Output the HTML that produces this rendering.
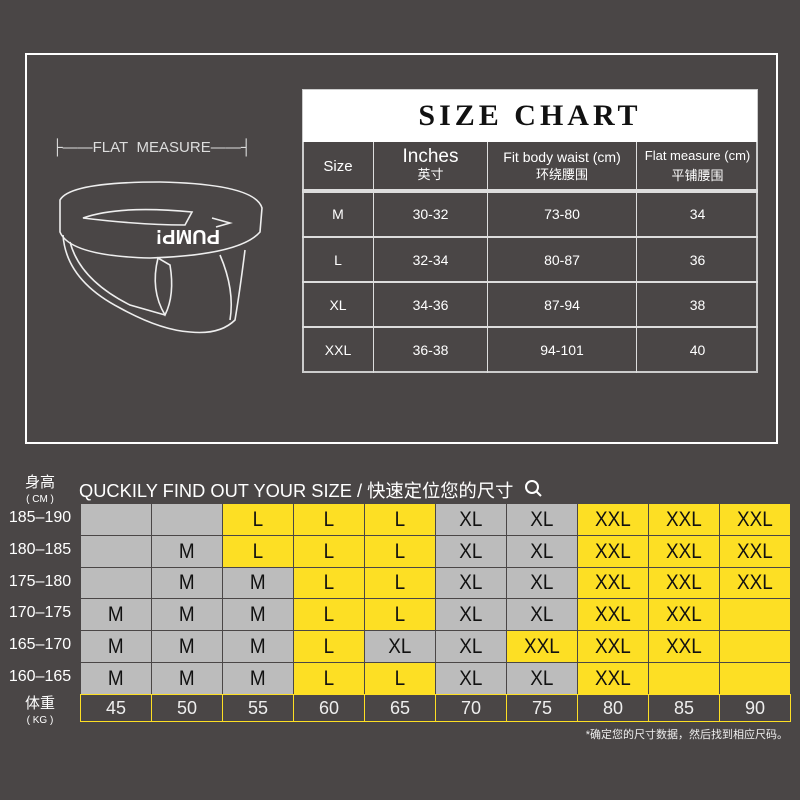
<!DOCTYPE html>
<html><head><meta charset="utf-8"><style>
body{margin:0;width:800px;height:800px;background:#4a4646;position:relative;overflow:hidden;font-family:"Liberation Sans","Noto Sans CJK SC",sans-serif;color:#fff}
.a{position:absolute}
.frame{left:25px;top:53px;width:749px;height:387px;border:2px solid #fff}
.c{position:absolute;display:flex;align-items:center;justify-content:center;text-align:center;box-sizing:border-box}
.g{position:absolute;box-sizing:border-box;display:flex;align-items:center;justify-content:center;font-size:21px;color:#111;border:1.5px solid #4a4646}
.g span{display:inline-block;transform:scaleX(0.9)}
.G{background:#bcbcbc}.Y{background:#fddf24}
.w{position:absolute;box-sizing:border-box;display:flex;align-items:center;justify-content:center;font-size:18px;color:#eee;border:1.5px solid #fddf24;background:#4a4646}
.h{position:absolute;left:0;width:80px;text-align:center;font-size:16px;color:#fff}
</style></head><body>
<div class="a frame"></div>
<div class="a" style="left:52px;top:139px;font-size:15px;color:#ddd;white-space:nowrap">&#9500;&#8212;&#8212;FLAT&nbsp; MEASURE&#8212;&#8212;&#9508;</div>
<svg class="a" style="left:40px;top:170px" width="240" height="200" viewBox="0 0 240 200" fill="none" stroke="#eee" stroke-width="1.6">
<path d="M20 30 Q30 12 120 12 Q215 14 222 38 L220 62 Q200 85 110 88 Q30 86 20 62 Z"/>
<path d="M43 48 Q80 35 152 42 L145 55 Q100 55 43 48 Z"/>
<path d="M172 48 L190 53 L176 57"/>
<path d="M23 65 Q26 110 80 138 Q120 160 150 162 Q180 165 195 150 Q200 120 205 80"/>
<path d="M30 72 Q40 110 90 135 L125 145"/>
<path d="M118 88 Q110 120 125 145 Q135 125 130 95 Z"/>
<path d="M180 85 Q195 120 190 150"/>
<text x="100" y="80" fill="#fff" stroke="none" font-size="20" font-weight="bold" transform="rotate(180 140 70)" font-family="Liberation Sans">PUMP!</text>
</svg>
<div class="a" style="left:302px;top:89px;width:456px;height:284px;border:2px solid #ccc;box-sizing:border-box"></div>
<div class="c" style="left:303px;top:90px;width:454px;height:52px;background:#fff;color:#111;font-family:'Liberation Serif',serif;font-weight:bold;font-size:30px;letter-spacing:4px">SIZE CHART</div>
<div class="a" style="left:302px;top:189px;width:456px;height:4px;background:#ddd"></div>
<div class="a" style="left:373px;top:142px;width:1px;height:231px;background:#ddd"></div>
<div class="a" style="left:487px;top:142px;width:1px;height:231px;background:#ddd"></div>
<div class="a" style="left:636px;top:142px;width:1px;height:231px;background:#ddd"></div>
<div class="a" style="left:302px;top:236px;width:456px;height:2px;background:#ddd"></div>
<div class="a" style="left:302px;top:281px;width:456px;height:2px;background:#ddd"></div>
<div class="a" style="left:302px;top:326px;width:456px;height:2px;background:#ddd"></div>
<div class="c" style="left:302px;top:142px;width:72px;height:48px;font-size:15px">Size</div>
<div class="c" style="left:374px;top:142px;width:113px;height:48px;font-size:19px;line-height:18px;flex-direction:column">Inches<span style="font-size:13px">英寸</span></div>
<div class="c" style="left:487px;top:142px;width:150px;height:48px;font-size:14px;line-height:18px;flex-direction:column">Fit body waist (cm)<span style="font-size:13px">环绕腰围</span></div>
<div class="c" style="left:637px;top:142px;width:121px;height:48px;font-size:13px;line-height:20px;flex-direction:column">Flat measure (cm)<span style="font-size:13px">平铺腰围</span></div>
<div class="c" style="left:302px;top:192px;width:72px;height:44px;font-size:14px">M</div>
<div class="c" style="left:374px;top:192px;width:113px;height:44px;font-size:14px">30-32</div>
<div class="c" style="left:487px;top:192px;width:150px;height:44px;font-size:14px">73-80</div>
<div class="c" style="left:637px;top:192px;width:121px;height:44px;font-size:14px">34</div>
<div class="c" style="left:302px;top:237px;width:72px;height:45px;font-size:14px">L</div>
<div class="c" style="left:374px;top:237px;width:113px;height:45px;font-size:14px">32-34</div>
<div class="c" style="left:487px;top:237px;width:150px;height:45px;font-size:14px">80-87</div>
<div class="c" style="left:637px;top:237px;width:121px;height:45px;font-size:14px">36</div>
<div class="c" style="left:302px;top:282px;width:72px;height:45px;font-size:14px">XL</div>
<div class="c" style="left:374px;top:282px;width:113px;height:45px;font-size:14px">34-36</div>
<div class="c" style="left:487px;top:282px;width:150px;height:45px;font-size:14px">87-94</div>
<div class="c" style="left:637px;top:282px;width:121px;height:45px;font-size:14px">38</div>
<div class="c" style="left:302px;top:327px;width:72px;height:46px;font-size:14px">XXL</div>
<div class="c" style="left:374px;top:327px;width:113px;height:46px;font-size:14px">36-38</div>
<div class="c" style="left:487px;top:327px;width:150px;height:46px;font-size:14px">94-101</div>
<div class="c" style="left:637px;top:327px;width:121px;height:46px;font-size:14px">40</div>
<div class="h" style="top:475px;font-size:15px;line-height:15px">身高<br><span style="font-size:10px">( CM )</span></div>
<div class="a" style="left:79px;top:477px;font-size:18.3px;white-space:nowrap">QUCKILY FIND OUT YOUR SIZE / 快速定位您的尺寸</div>
<svg class="a" style="left:524px;top:479px" width="20" height="20" fill="none" stroke="#fff" stroke-width="2"><circle cx="8" cy="8" r="6"/><line x1="12" y1="12" x2="17" y2="17"/></svg>
<div class="h" style="top:509px">185–190</div>
<div class="h" style="top:541px">180–185</div>
<div class="h" style="top:573px">175–180</div>
<div class="h" style="top:604px">170–175</div>
<div class="h" style="top:636px">165–170</div>
<div class="h" style="top:668px">160–165</div>
<div class="h" style="top:696px;font-size:15px;line-height:15px">体重<br><span style="font-size:10px">( KG )</span></div>
<div id="grid"></div>
<div class="a" style="right:12px;top:726px;font-size:11px;color:#eee">*确定您的尺寸数据，然后找到相应尺码。</div>
<script>
var rows=[["GX","GX","YL","YL","YL","GXL","GXL","YXXL","YXXL","YXXL"],
["GX","GM","YL","YL","YL","GXL","GXL","YXXL","YXXL","YXXL"],
["GX","GM","GM","YL","YL","GXL","GXL","YXXL","YXXL","YXXL"],
["GM","GM","GM","YL","YL","GXL","GXL","YXXL","YXXL","YX"],
["GM","GM","GM","YL","GXL","GXL","YXXL","YXXL","YXXL","YX"],
["GM","GM","GM","YL","YL","GXL","GXL","YXXL","YX","YX"]];
var tops=[503,535,567,598,630,662,694],h="";
for(var r=0;r<6;r++)for(var c=0;c<10;c++){var v=rows[r][c],t=v.slice(1);if(t=="X")t="";
h+='<div class="g '+v[0]+'" style="left:'+(80+c*71)+'px;top:'+tops[r]+'px;width:72px;height:'+(tops[r+1]-tops[r]+1)+'px"><span>'+t+'</span></div>';}
for(var c=0;c<10;c++)h+='<div class="w" style="left:'+(80+c*71)+'px;top:694px;width:72px;height:28px">'+(45+c*5)+'</div>';
document.getElementById("grid").innerHTML=h;
</script>
</body></html>
